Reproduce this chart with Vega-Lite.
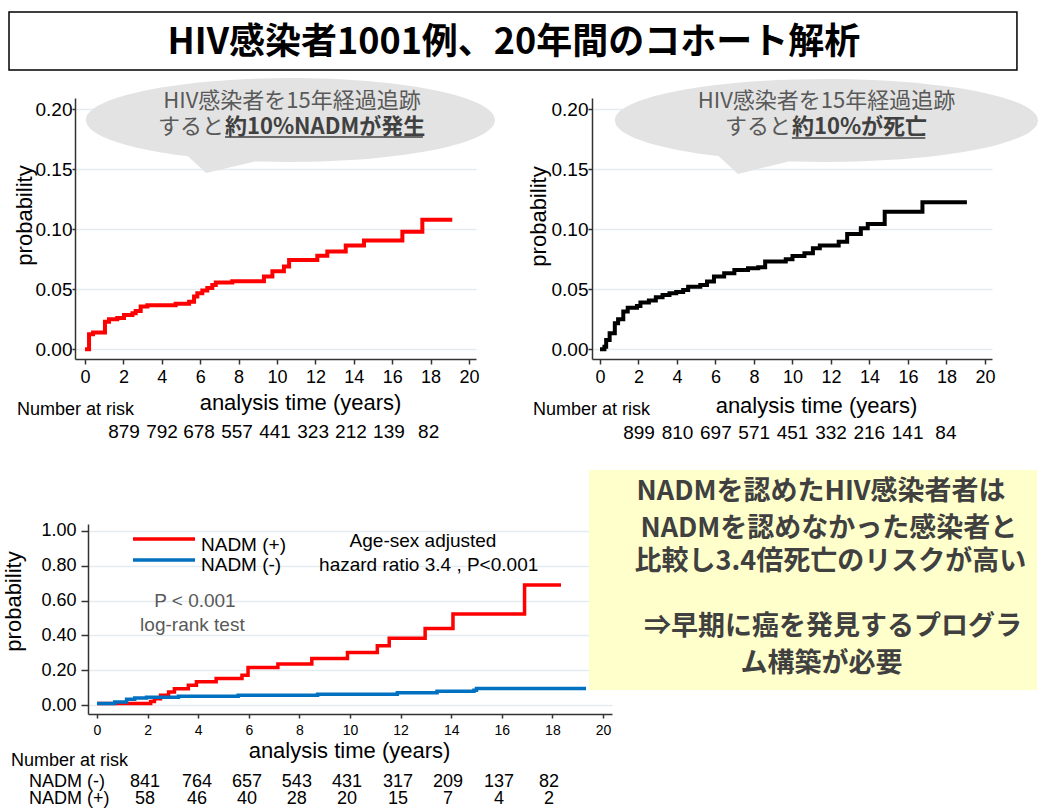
{
  "$schema": "https://vega.github.io/schema/vega-lite/v6.json",
  "background": "white",
  "padding": {"left": 2, "top": 11, "right": 0, "bottom": 0},
  "config": {
    "view": {"stroke": null},
    "font": "Liberation Sans",
    "text": {"font": "Liberation Sans"},
    "axis": {
      "labelFont": "Liberation Sans", "titleFont": "Liberation Sans", "titleFontWeight": "normal",
      "labelColor": "#000000", "titleColor": "#000000", "domainColor": "#333333", "tickColor": "#333333",
      "gridColor": "#e4ecf1", "gridWidth": 1.5, "labelFlush": false, "labelOverlap": false, "labelBound": false,
      "domainWidth": 1.5, "tickWidth": 1.5
    }
  },
  "spacing": 26,
  "vconcat": [
    {
      "hconcat": [
        {"width": 71, "height": 1, "data": {"values": [{"a": 0}]}, "mark": {"type": "point", "opacity": 0}},
        {
          "width": 401, "height": 261,
          "encoding": {
            "x": {"field": "x", "type": "quantitative",
              "scale": {"domain": [-0.521, 20.365], "nice": false, "zero": false},
              "axis": {"values": [0, 2, 4, 6, 8, 10, 12, 14, 16, 18, 20], "format": "d", "grid": false,
                "title": "analysis time (years)", "titleFontSize": 22, "titleX": 225, "titleY": 43,
                "titleAlign": "center", "titleBaseline": "middle", "labelFontSize": 18, "tickSize": 5, "labelPadding": 4}},
            "y": {"field": "y", "type": "quantitative",
              "scale": {"domain": [-0.0081, 0.2094], "nice": false, "zero": false},
              "axis": {"values": [0, 0.05, 0.1, 0.15, 0.2], "format": ".2f", "grid": true,
                "title": "probability", "titleFontSize": 22, "titleX": -51, "titleY": 117, "titleAngle": 270,
                "titleAlign": "center", "titleBaseline": "middle", "labelFontSize": 19, "tickSize": 3, "labelPadding": 0}}
          },
          "layer": [
            {
              "data": {"values": [{"x": -3.958, "x2": 48.54, "y": 0.28108, "y2": 0.23275}]},
              "mark": {"type": "rect", "fill": "#ffffff", "stroke": "#000000", "strokeWidth": 1.5},
              "encoding": {"x2": {"field": "x2"}, "y2": {"field": "y2"}}
            },
            {
              "data": {"values": [{"x": 22.34, "y": 0.2553, "label": "HIV感染者1001例、20年間のコホート解析"}]},
              "mark": {"type": "text", "font": "Noto Sans CJK JP", "fontWeight": "bold", "fontSize": 36, "color": "#000000", "align": "center", "baseline": "middle"},
              "encoding": {"text": {"field": "label"}}
            },
            {
              "data": {"values": [{"x": 10.703, "y": 0.1911}]},
              "mark": {"type": "point", "shape": "M-1,0A1,0.205,0,1,0,1,0A1,0.205,0,1,0,-1,0ZM-0.52,0.16L-0.413,0.259L-0.12,0.19Z",
                "size": 167281, "filled": true, "color": "#e3e3e3", "opacity": 1, "strokeWidth": 0},
              "encoding": {}
            },
            {
              "data": {"values": [{"x": 10.78, "y": 0.2069, "label": "HIV感染者を15年経過追跡"}]},
              "mark": {"type": "text", "font": "Noto Sans CJK JP", "fontSize": 22, "color": "#595959", "align": "center", "baseline": "middle"},
              "encoding": {"text": {"field": "label"}}
            },
            {
              "data": {"values": [{"x": 7.24, "y": 0.1853, "label": "すると"}]},
              "mark": {"type": "text", "font": "Noto Sans CJK JP", "fontSize": 22, "color": "#595959", "align": "right", "baseline": "middle"},
              "encoding": {"text": {"field": "label"}}
            },
            {
              "data": {"values": [{"x": 7.29, "y": 0.1853, "label": "約10%NADMが発生"}]},
              "mark": {"type": "text", "font": "Noto Sans CJK JP", "fontWeight": "bold", "fontSize": 22, "color": "#404040", "align": "left", "baseline": "middle"},
              "encoding": {"text": {"field": "label"}}
            },
            {
              "data": {"values": [{"x": 7.29, "x2": 17.6, "y": 0.1769}]},
              "mark": {"type": "rule", "color": "#404040", "strokeWidth": 1.5},
              "encoding": {"x2": {"field": "x2"}}
            },
            {
              "data": {"values": [
                {"x": 0, "y": 0}, {"x": 0.21, "y": 0.0125}, {"x": 0.42, "y": 0.014}, {"x": 1.04, "y": 0.023},
                {"x": 1.25, "y": 0.025}, {"x": 1.68, "y": 0.026}, {"x": 2.03, "y": 0.0286}, {"x": 2.47, "y": 0.03},
                {"x": 2.64, "y": 0.032}, {"x": 2.9, "y": 0.0356}, {"x": 3.25, "y": 0.0367}, {"x": 4.72, "y": 0.038},
                {"x": 5.42, "y": 0.0397}, {"x": 5.68, "y": 0.044}, {"x": 5.85, "y": 0.0467}, {"x": 6.11, "y": 0.049},
                {"x": 6.37, "y": 0.051}, {"x": 6.63, "y": 0.0536}, {"x": 6.81, "y": 0.0556}, {"x": 7.67, "y": 0.0567},
                {"x": 9.32, "y": 0.0606}, {"x": 9.76, "y": 0.065}, {"x": 10.36, "y": 0.069}, {"x": 10.63, "y": 0.0744},
                {"x": 12.1, "y": 0.078}, {"x": 12.62, "y": 0.0814}, {"x": 13.58, "y": 0.0864}, {"x": 14.53, "y": 0.0906},
                {"x": 16.53, "y": 0.098}, {"x": 17.57, "y": 0.108}, {"x": 19.13, "y": 0.108}
              ]},
              "mark": {"type": "line", "interpolate": "step-after", "color": "#ff0000", "strokeWidth": 4},
              "encoding": {}
            },
            {
              "data": {"values": [{"x": -3.54, "y": -0.0506, "label": "Number at risk"}]},
              "mark": {"type": "text", "fontSize": 18, "color": "#000000", "align": "left", "baseline": "middle"},
              "encoding": {"text": {"field": "label"}}
            },
            {
              "data": {"values": [
                {"x": 2.03, "y": -0.069, "label": "879"}, {"x": 4.01, "y": -0.069, "label": "792"},
                {"x": 5.94, "y": -0.069, "label": "678"}, {"x": 7.92, "y": -0.069, "label": "557"},
                {"x": 9.9, "y": -0.069, "label": "441"}, {"x": 11.88, "y": -0.069, "label": "323"},
                {"x": 13.85, "y": -0.069, "label": "212"}, {"x": 15.83, "y": -0.069, "label": "139"},
                {"x": 17.9, "y": -0.069, "label": "82"}
              ]},
              "mark": {"type": "text", "fontSize": 19, "color": "#000000", "align": "center", "baseline": "middle"},
              "encoding": {"text": {"field": "label"}}
            }
          ]
        },
        {"width": 116, "height": 1, "data": {"values": [{"a": 0}]}, "mark": {"type": "point", "opacity": 0}},
        {
          "width": 400, "height": 261,
          "encoding": {
            "x": {"field": "x", "type": "quantitative",
              "scale": {"domain": [-0.4156, 20.364], "nice": false, "zero": false},
              "axis": {"values": [0, 2, 4, 6, 8, 10, 12, 14, 16, 18, 20], "format": "d", "grid": false,
                "title": "analysis time (years)", "titleFontSize": 22, "titleX": 224, "titleY": 46,
                "titleAlign": "center", "titleBaseline": "middle", "labelFontSize": 18, "tickSize": 5, "labelPadding": 4}},
            "y": {"field": "y", "type": "quantitative",
              "scale": {"domain": [-0.0081, 0.2094], "nice": false, "zero": false},
              "axis": {"values": [0, 0.05, 0.1, 0.15, 0.2], "format": ".2f", "grid": true,
                "title": "probability", "titleFontSize": 22, "titleX": -54, "titleY": 118, "titleAngle": 270,
                "titleAlign": "center", "titleBaseline": "middle", "labelFontSize": 19, "tickSize": 4, "labelPadding": 0}}
          },
          "layer": [
            {
              "data": {"values": [{"x": 11.766, "y": 0.1907}]},
              "mark": {"type": "point", "shape": "M-1,0A1,0.196,0,1,0,1,0A1,0.196,0,1,0,-1,0ZM-0.53,0.15L-0.418,0.253L-0.12,0.18Z",
                "size": 178929, "filled": true, "color": "#e3e3e3", "opacity": 1, "strokeWidth": 0},
              "encoding": {}
            },
            {
              "data": {"values": [{"x": 11.766, "y": 0.2069, "label": "HIV感染者を15年経過追跡"}]},
              "mark": {"type": "text", "font": "Noto Sans CJK JP", "fontSize": 22, "color": "#595959", "align": "center", "baseline": "middle"},
              "encoding": {"text": {"field": "label"}}
            },
            {
              "data": {"values": [{"x": 9.92, "y": 0.1853, "label": "すると"}]},
              "mark": {"type": "text", "font": "Noto Sans CJK JP", "fontSize": 22, "color": "#595959", "align": "right", "baseline": "middle"},
              "encoding": {"text": {"field": "label"}}
            },
            {
              "data": {"values": [{"x": 9.97, "y": 0.1853, "label": "約10%が死亡"}]},
              "mark": {"type": "text", "font": "Noto Sans CJK JP", "fontWeight": "bold", "fontSize": 22, "color": "#404040", "align": "left", "baseline": "middle"},
              "encoding": {"text": {"field": "label"}}
            },
            {
              "data": {"values": [{"x": 9.97, "x2": 16.9, "y": 0.1761}]},
              "mark": {"type": "rule", "color": "#404040", "strokeWidth": 1.5},
              "encoding": {"x2": {"field": "x2"}}
            },
            {
              "data": {"values": [
                {"x": 0, "y": 0}, {"x": 0.23, "y": 0.0022}, {"x": 0.32, "y": 0.0078}, {"x": 0.5, "y": 0.0133},
                {"x": 0.77, "y": 0.0217}, {"x": 0.94, "y": 0.025}, {"x": 1.21, "y": 0.0314}, {"x": 1.44, "y": 0.0347},
                {"x": 1.92, "y": 0.0361}, {"x": 2.1, "y": 0.0389}, {"x": 2.54, "y": 0.0406}, {"x": 2.9, "y": 0.0433},
                {"x": 3.25, "y": 0.0453}, {"x": 3.61, "y": 0.0467}, {"x": 3.96, "y": 0.0478}, {"x": 4.32, "y": 0.0494},
                {"x": 4.58, "y": 0.0522}, {"x": 5.21, "y": 0.0536}, {"x": 5.56, "y": 0.0564}, {"x": 5.92, "y": 0.0606},
                {"x": 6.45, "y": 0.0633}, {"x": 6.98, "y": 0.0661}, {"x": 7.69, "y": 0.0675}, {"x": 8.22, "y": 0.0683},
                {"x": 8.58, "y": 0.0731}, {"x": 9.65, "y": 0.075}, {"x": 10.0, "y": 0.0778}, {"x": 10.62, "y": 0.08},
                {"x": 11.06, "y": 0.0842}, {"x": 11.42, "y": 0.0864}, {"x": 12.4, "y": 0.0897}, {"x": 12.84, "y": 0.0961},
                {"x": 13.55, "y": 0.1008}, {"x": 13.91, "y": 0.1044}, {"x": 14.79, "y": 0.1147}, {"x": 16.75, "y": 0.1225},
                {"x": 19.06, "y": 0.1225}
              ]},
              "mark": {"type": "line", "interpolate": "step-after", "color": "#000000", "strokeWidth": 4},
              "encoding": {}
            },
            {
              "data": {"values": [{"x": -3.48, "y": -0.0506, "label": "Number at risk"}]},
              "mark": {"type": "text", "fontSize": 18, "color": "#000000", "align": "left", "baseline": "middle"},
              "encoding": {"text": {"field": "label"}}
            },
            {
              "data": {"values": [
                {"x": 2.03, "y": -0.0697, "label": "899"}, {"x": 4.03, "y": -0.0697, "label": "810"},
                {"x": 6.02, "y": -0.0697, "label": "697"}, {"x": 8.01, "y": -0.0697, "label": "571"},
                {"x": 10.0, "y": -0.0697, "label": "451"}, {"x": 12.0, "y": -0.0697, "label": "332"},
                {"x": 13.99, "y": -0.0697, "label": "216"}, {"x": 15.98, "y": -0.0697, "label": "141"},
                {"x": 17.97, "y": -0.0697, "label": "84"}
              ]},
              "mark": {"type": "text", "fontSize": 19, "color": "#000000", "align": "center", "baseline": "middle"},
              "encoding": {"text": {"field": "label"}}
            }
          ]
        }
      ],
      "spacing": 0,
      "bounds": "flush"
    },
    {
      "hconcat": [
        {"width": 84, "height": 1, "data": {"values": [{"a": 0}]}, "mark": {"type": "point", "opacity": 0}},
        {
          "width": 524, "height": 190,
          "encoding": {
            "x": {"field": "x", "type": "quantitative",
              "scale": {"domain": [-0.356, 20.356], "nice": false, "zero": false},
              "axis": {"values": [0, 2, 4, 6, 8, 10, 12, 14, 16, 18, 20], "format": "d", "grid": false,
                "title": "analysis time (years)", "titleFontSize": 22, "titleX": 261, "titleY": 36,
                "titleAlign": "center", "titleBaseline": "middle", "labelFontSize": 14, "tickSize": 4, "labelPadding": 5}},
            "y": {"field": "y", "type": "quantitative",
              "scale": {"domain": [-0.0517, 1.0402], "nice": false, "zero": false},
              "axis": {"values": [0, 0.2, 0.4, 0.6, 0.8, 1], "format": ".2f", "grid": true,
                "title": "probability", "titleFontSize": 22, "titleX": -75, "titleY": 77, "titleAngle": 270,
                "titleAlign": "center", "titleBaseline": "middle", "labelFontSize": 18, "tickSize": 7, "labelPadding": 5}}
          },
          "layer": [
            {
              "data": {"values": [
                {"g": "NADM (+)", "x": 0, "y": 0.008}, {"g": "NADM (+)", "x": 2.12, "y": 0.02},
                {"g": "NADM (+)", "x": 2.27, "y": 0.036}, {"g": "NADM (+)", "x": 2.51, "y": 0.056},
                {"g": "NADM (+)", "x": 2.83, "y": 0.075}, {"g": "NADM (+)", "x": 3.06, "y": 0.094},
                {"g": "NADM (+)", "x": 3.61, "y": 0.113}, {"g": "NADM (+)", "x": 3.93, "y": 0.133},
                {"g": "NADM (+)", "x": 4.71, "y": 0.152}, {"g": "NADM (+)", "x": 5.73, "y": 0.171},
                {"g": "NADM (+)", "x": 5.97, "y": 0.215}, {"g": "NADM (+)", "x": 7.15, "y": 0.235},
                {"g": "NADM (+)", "x": 8.49, "y": 0.267}, {"g": "NADM (+)", "x": 9.9, "y": 0.302},
                {"g": "NADM (+)", "x": 11.08, "y": 0.34}, {"g": "NADM (+)", "x": 11.55, "y": 0.383},
                {"g": "NADM (+)", "x": 12.97, "y": 0.44}, {"g": "NADM (+)", "x": 14.07, "y": 0.523},
                {"g": "NADM (+)", "x": 16.9, "y": 0.69}, {"g": "NADM (+)", "x": 18.34, "y": 0.69},
                {"g": "NADM (-)", "x": 0, "y": 0.008}, {"g": "NADM (-)", "x": 0.7, "y": 0.017},
                {"g": "NADM (-)", "x": 1.17, "y": 0.033}, {"g": "NADM (-)", "x": 1.49, "y": 0.04},
                {"g": "NADM (-)", "x": 1.96, "y": 0.045}, {"g": "NADM (-)", "x": 3.22, "y": 0.05},
                {"g": "NADM (-)", "x": 5.58, "y": 0.056}, {"g": "NADM (-)", "x": 8.72, "y": 0.062},
                {"g": "NADM (-)", "x": 11.87, "y": 0.071}, {"g": "NADM (-)", "x": 13.44, "y": 0.079},
                {"g": "NADM (-)", "x": 14.9, "y": 0.085}, {"g": "NADM (-)", "x": 15.0, "y": 0.095},
                {"g": "NADM (-)", "x": 19.33, "y": 0.095}
              ]},
              "mark": {"type": "line", "interpolate": "step-after", "strokeWidth": 3.5},
              "encoding": {
                "color": {"field": "g", "type": "nominal", "scale": {"domain": ["NADM (+)", "NADM (-)"], "range": ["#ff0000", "#0070c0"]}, "legend": null}
              }
            },
            {
              "data": {"values": [
                {"g": "NADM (+)", "x": 1.423, "x2": 3.874, "y": 0.954},
                {"g": "NADM (-)", "x": 1.423, "x2": 3.874, "y": 0.833}
              ]},
              "mark": {"type": "rule", "strokeWidth": 3.5},
              "encoding": {
                "x2": {"field": "x2"},
                "color": {"field": "g", "type": "nominal", "legend": null}
              }
            },
            {
              "data": {"values": [
                {"x": 4.11, "y": 0.9195, "label": "NADM (+)"},
                {"x": 4.11, "y": 0.8046, "label": "NADM (-)"}
              ]},
              "mark": {"type": "text", "fontSize": 19, "color": "#000000", "align": "left", "baseline": "middle"},
              "encoding": {"text": {"field": "label"}}
            },
            {
              "data": {"values": [
                {"x": 12.885, "y": 0.9425, "label": "Age-sex adjusted"},
                {"x": 13.11, "y": 0.8046, "label": "hazard ratio 3.4 , P<0.001"}
              ]},
              "mark": {"type": "text", "fontSize": 19, "color": "#000000", "align": "center", "baseline": "middle"},
              "encoding": {"text": {"field": "label"}}
            },
            {
              "data": {"values": [
                {"x": 3.87, "y": 0.5977, "label": "P < 0.001"},
                {"x": 3.77, "y": 0.46, "label": "log-rank test"}
              ]},
              "mark": {"type": "text", "fontSize": 19, "color": "#595959", "align": "center", "baseline": "middle"},
              "encoding": {"text": {"field": "label"}}
            },
            {
              "data": {"values": [{"x": 19.447, "x2": 37.154, "y": 0.0862, "y2": 1.3506}]},
              "mark": {"type": "rect", "fill": "#ffffcc", "strokeWidth": 0},
              "encoding": {"x2": {"field": "x2"}, "y2": {"field": "y2"}}
            },
            {
              "data": {"values": [
                {"x": 28.62, "y": 1.2241, "label": "NADMを認めたHIV感染者者は"},
                {"x": 28.93, "y": 1.0115, "label": "NADMを認めなかった感染者と"},
                {"x": 28.99, "y": 0.8218, "label": "比較し3.4倍死亡のリスクが高い"},
                {"x": 29.09, "y": 0.4483, "label": "⇒早期に癌を発見するプログラ"},
                {"x": 28.64, "y": 0.2356, "label": "ム構築が必要"}
              ]},
              "mark": {"type": "text", "font": "Noto Sans CJK JP", "fontWeight": "bold", "fontSize": 27, "color": "#404040", "align": "center", "baseline": "middle"},
              "encoding": {"text": {"field": "label"}}
            },
            {
              "data": {"values": [
                {"x": -3.399, "y": -0.3218, "label": "Number at risk"},
                {"x": -2.688, "y": -0.4425, "label": "NADM (-)"},
                {"x": -2.688, "y": -0.5402, "label": "NADM (+)"}
              ]},
              "mark": {"type": "text", "fontSize": 18, "color": "#000000", "align": "left", "baseline": "middle"},
              "encoding": {"text": {"field": "label"}}
            },
            {
              "data": {"values": [
                {"x": 1.9, "y": -0.4425, "label": "841"}, {"x": 3.95, "y": -0.4425, "label": "764"},
                {"x": 5.93, "y": -0.4425, "label": "657"}, {"x": 7.9, "y": -0.4425, "label": "543"},
                {"x": 9.88, "y": -0.4425, "label": "431"}, {"x": 11.9, "y": -0.4425, "label": "317"},
                {"x": 13.87, "y": -0.4425, "label": "209"}, {"x": 15.89, "y": -0.4425, "label": "137"},
                {"x": 17.87, "y": -0.4425, "label": "82"},
                {"x": 1.9, "y": -0.5402, "label": "58"}, {"x": 3.95, "y": -0.5402, "label": "46"},
                {"x": 5.93, "y": -0.5402, "label": "40"}, {"x": 7.9, "y": -0.5402, "label": "28"},
                {"x": 9.88, "y": -0.5402, "label": "20"}, {"x": 11.9, "y": -0.5402, "label": "15"},
                {"x": 13.87, "y": -0.5402, "label": "7"}, {"x": 15.89, "y": -0.5402, "label": "4"},
                {"x": 17.87, "y": -0.5402, "label": "2"}
              ]},
              "mark": {"type": "text", "fontSize": 18, "color": "#000000", "align": "center", "baseline": "middle"},
              "encoding": {"text": {"field": "label"}}
            }
          ]
        }
      ],
      "spacing": 0,
      "bounds": "flush"
    }
  ]
}
